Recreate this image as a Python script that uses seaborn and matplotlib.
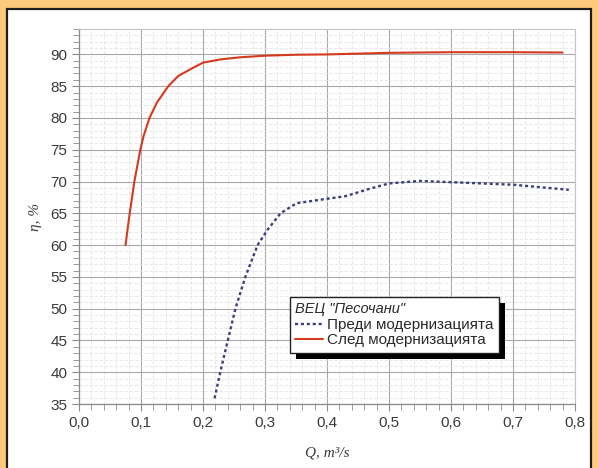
import matplotlib
matplotlib.use("Agg")
import matplotlib.pyplot as plt
import matplotlib.ticker as mticker
from matplotlib.patches import Rectangle
import seaborn as sns
import pandas as pd

# Data
q_before = [0.2187, 0.2278, 0.240, 0.2523, 0.2683, 0.288, 0.304, 0.325, 0.351, 0.394, 0.43, 0.47, 0.50, 0.55, 0.60, 0.70, 0.79]
eta_before = [35.9, 40.0, 45.0, 50.0, 55.0, 60.0, 62.4, 65.0, 66.6, 67.2, 67.7, 68.9, 69.7, 70.1, 69.9, 69.5, 68.7]

q_after = [0.075, 0.0818, 0.0893, 0.0989, 0.104, 0.1137, 0.1255, 0.144, 0.160, 0.184, 0.20, 0.227, 0.26, 0.30, 0.35, 0.40, 0.50, 0.60, 0.70, 0.78]
eta_after = [60.0, 65.0, 70.0, 75.0, 77.1, 80.0, 82.4, 85.0, 86.6, 87.9, 88.7, 89.2, 89.55, 89.8, 89.95, 90.0, 90.25, 90.35, 90.35, 90.3]

x_ticks = [0.0, 0.1, 0.2, 0.3, 0.4, 0.5, 0.6, 0.7, 0.8]
y_ticks = [35, 40, 45, 50, 55, 60, 65, 70, 75, 80, 85, 90]

legend_title = 'ВЕЦ "Песочани"'
label_before = "Преди модернизацията"
label_after = "След модернизацията"

sns.set_style("white")
plt.rcParams["font.family"] = ["Liberation Sans", "DejaVu Sans"]

W, H = 598, 468
fig = plt.figure(figsize=(W / 100, H / 100), dpi=100)
fig.patch.set_facecolor("#FDCA7B")

# white panel with dark frame
panel = Rectangle((7 / W, -0.05), (591 - 7) / W, 1.05 - 9 / H, transform=fig.transFigure,
                  facecolor="white", edgecolor="#1e1e1e", linewidth=1.6, zorder=-10)
fig.patches.append(panel)

ax = fig.add_axes([79 / W, 1 - 404 / H, (575 - 79) / W, (404 - 29) / H])
ax.set_facecolor("white")
ax.set_zorder(1)

df_b = pd.DataFrame({"Q": q_before, "eta": eta_before})
df_a = pd.DataFrame({"Q": q_after, "eta": eta_after})

sns.lineplot(data=df_b, x="Q", y="eta", ax=ax, sort=False, estimator=None,
             color="#3b3f7a", linestyle=(0, (1.3, 1.2)), linewidth=1.7, label=label_before, zorder=3)
sns.lineplot(data=df_a, x="Q", y="eta", ax=ax, sort=False, estimator=None,
             color="#d43a1e", linewidth=1.5, label=label_after, zorder=4)

ax.set_xlim(0.0, 0.8)
ax.set_ylim(35, 94)
ax.set_xticks(x_ticks)
ax.set_yticks(y_ticks)
ax.xaxis.set_minor_locator(mticker.MultipleLocator(0.02))
ax.yaxis.set_minor_locator(mticker.MultipleLocator(1))
ax.xaxis.set_major_formatter(mticker.FuncFormatter(lambda v, p: f"{v:.1f}".replace(".", ",")))

ax.grid(which="major", color="#a8a8a8", linewidth=0.8)
ax.grid(which="minor", color="#e4e4e4", linewidth=0.6, linestyle=(0, (4, 2)))
ax.set_axisbelow(True)

for s in ["left", "bottom"]:
    ax.spines[s].set_color("#8a8a8a")
    ax.spines[s].set_linewidth(0.9)
for s in ["top", "right"]:
    ax.spines[s].set_color("#c4c4c4")
    ax.spines[s].set_linewidth(0.8)

ax.tick_params(which="both", direction="out", colors="#8a8a8a", labelcolor="#3a3a3a",
               labelsize=11, left=True, bottom=True)
ax.tick_params(which="major", length=5, width=0.8)
ax.tick_params(which="minor", length=4, width=0.6)

ax.set_xlabel("Q, m³/s", family=["Liberation Serif", "DejaVu Serif"], style="italic",
              fontsize=11, color="#3a3a3a", labelpad=12)
ax.set_ylabel("η, %", family=["Liberation Serif", "DejaVu Serif"], style="italic",
              fontsize=11, color="#3a3a3a", labelpad=6)

leg = ax.legend(loc="upper left", bbox_to_anchor=((290 - 79) / (575 - 79), (404 - 297) / (404 - 29)),
                title=legend_title, alignment="left", fontsize=11,
                title_fontproperties={"style": "italic", "size": 10.5},
                frameon=True, fancybox=False, edgecolor="#222222", framealpha=1,
                borderpad=0.35, labelspacing=0.1, handlelength=1.8, handletextpad=0.3,
                borderaxespad=0)
leg.get_frame().set_linewidth(1.0)
leg.set_zorder(10)
for t in leg.get_texts():
    t.set_color("#2a2a2a")
leg.get_title().set_color("#2a2a2a")

fig.canvas.draw()
bb = leg.get_window_extent()
shadow = Rectangle((bb.x0 + 6, bb.y0 - 6), bb.width, bb.height, transform=None,
                   facecolor="black", edgecolor="none", zorder=9)
ax.add_artist(shadow)

fig.savefig("out.png", dpi=100, facecolor=fig.get_facecolor())
